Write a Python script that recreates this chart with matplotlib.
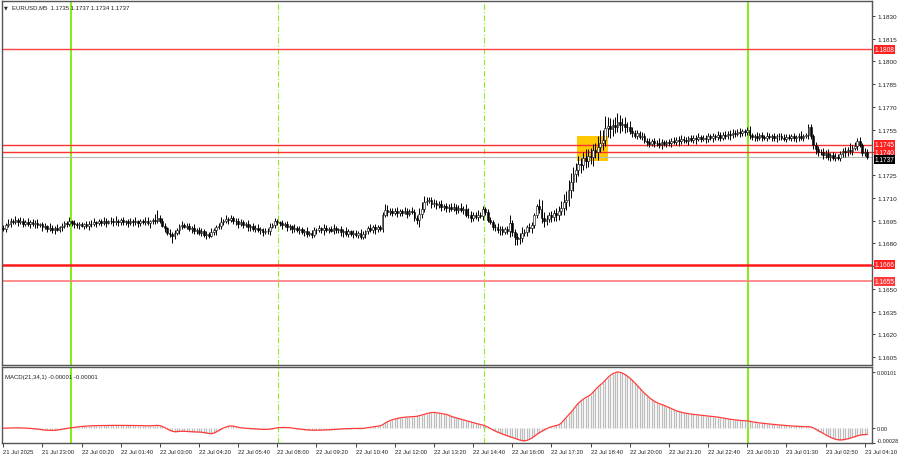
import matplotlib
matplotlib.use('Agg')
import matplotlib.pyplot as plt
from matplotlib.patches import Rectangle

plt.rcParams['font.family'] = ['Liberation Sans', 'DejaVu Sans']

# prices are points above 1.1600 (1 point = 0.00001)
BASE = 1.16
PT = 0.00001
WICK_UNIT = 3.5 * PT
first_open = 900

closes = [
    894, 920, 930, 950, 942, 955, 940, 950, 930, 942, 928, 938, 925, 935, 920,
    925, 905, 912, 895, 903, 888, 900, 890, 905, 912, 932, 928, 945, 935,
    928, 918, 926, 915, 925, 916, 930,
    925, 940, 932, 945, 936, 948, 935, 944, 950, 938, 946, 940, 952, 938, 944, 934, 948, 938, 944, 932, 946,
    940, 950, 932, 946, 952, 948, 965, 950, 915, 900, 868, 860, 845, 870, 885, 915, 922,
    910, 915, 895, 902, 880, 890, 868, 878, 855, 862, 850,
    875, 885, 910, 915, 940, 945, 962, 955, 968,
    945, 950, 930, 938, 920, 928, 905, 915, 895, 902, 885, 892, 875, 882, 878,
    910, 920, 945, 938, 935, 918, 925, 905, 912, 895, 902, 885, 892, 875,
    880, 862, 870, 858, 890, 885, 900, 885, 902, 888, 895, 884, 898, 885, 892,
    872, 880, 862, 878, 860, 870, 856, 868, 842, 860, 878, 898, 890, 905, 892, 906, 895,
    985, 1020, 1005, 1015, 1000, 1012, 998, 1010, 1002, 1015, 995, 1010, 1005,
    970, 952, 995, 1025, 1070, 1080, 1085, 1060, 1068, 1050, 1058, 1040,
    1048, 1030, 1040, 1028, 1038, 1022, 1035, 1020, 1026, 990, 985, 968, 988, 972, 990, 982,
    1025, 1005, 955, 940, 910, 905, 885, 895, 875, 892, 878, 935, 875, 840, 830, 832,
    865, 875, 905, 898, 920, 985, 1045, 1025, 970, 950, 962, 985, 975, 998, 990, 1012,
    1035, 1075, 1085, 1150, 1205, 1255, 1285, 1325, 1320, 1360, 1345, 1375, 1370,
    1415, 1405, 1435, 1465, 1485, 1560,
    1575, 1555, 1580, 1570, 1600, 1580, 1590, 1565, 1570,
    1540, 1530, 1510, 1525, 1500, 1505, 1478,
    1470, 1455, 1472, 1460, 1465, 1452, 1468, 1455, 1466, 1460, 1475,
    1468, 1485, 1472, 1490, 1480, 1476, 1492, 1484, 1496, 1486, 1500, 1490,
    1494, 1488, 1505, 1495, 1508, 1500, 1512, 1498,
    1515, 1508, 1524, 1512, 1528, 1520, 1535, 1526, 1540, 1532, 1548, 1512, 1500,
    1510, 1498, 1512, 1502, 1496, 1508, 1500, 1505, 1492, 1506, 1510, 1496, 1490, 1502,
    1498, 1505, 1492, 1500, 1510, 1496, 1506, 1512, 1565,
    1505, 1448, 1425, 1400, 1405, 1380, 1395, 1372, 1380, 1365, 1370, 1362,
    1390, 1412, 1400, 1418, 1408, 1428, 1440, 1475, 1450, 1395, 1405, 1372,
]

# wick lengths in units of 3.5 points
wick_up = [
    6, 4, 8, 5, 3, 7, 4, 6, 5, 3, 8, 4, 6, 5, 7, 3,
    4, 6, 3, 8, 5, 4, 7, 3, 6, 5, 4, 8, 3, 6, 4, 5,
    5, 3, 7, 4, 6, 8, 3, 5, 4, 7, 5, 3, 6, 4, 9, 5,
    4, 7, 3, 5, 6, 4, 8, 3, 5, 4, 6, 7, 3, 5, 12, 15,
    6, 4, 5, 3, 8, 4, 6, 5, 3, 7, 4, 5, 6, 3, 8, 4,
    5, 7, 4, 6, 3, 8, 5, 4, 6, 9, 5, 7, 4, 6, 3, 5,
    4, 6, 5, 3, 7, 4, 6, 5, 8, 4, 3, 6, 5, 7, 4, 6,
    5, 3, 6, 4, 7, 5, 3, 8, 4, 6, 5, 4, 7, 3, 6, 5,
    4, 6, 3, 7, 5, 4, 6, 8, 5, 3, 6, 4, 7, 5, 3, 6,
    5, 4, 7, 6, 3, 5, 8, 4, 6, 5, 4, 7, 12, 10, 6, 5,
    6, 8, 5, 4, 7, 6, 5, 8, 6, 4, 10, 14, 12, 8, 6, 5,
    7, 5, 6, 8, 4, 6, 5, 7, 8, 6, 5, 9, 6, 10, 12, 8,
    6, 5, 8, 4, 6, 5, 7, 6, 4, 5, 8, 6, 5, 4, 7, 15,
    6, 5, 8, 10, 12, 6, 5, 8, 6, 4, 5, 14, 18, 10, 8, 6,
    8, 6, 10, 9, 12, 15, 18, 20, 16, 14, 12, 15, 10, 12, 18, 14,
    16, 12, 14, 20, 24, 18, 22, 16, 14, 12, 15, 18, 14, 10, 12, 8,
    10, 8, 6, 7, 5, 8, 6, 5, 7, 4, 6, 5, 8, 6, 4, 5,
    6, 5, 7, 4, 6, 8, 5, 6, 4, 7, 5, 6, 8, 4, 6, 5,
    7, 5, 6, 4, 8, 6, 5, 7, 4, 6, 8, 5, 6, 7, 4, 5,
    6, 8, 5, 4, 7, 5, 6, 4, 8, 6, 5, 7, 4, 6, 5, 8,
    5, 6, 4, 7, 5, 6, 8, 5, 4, 6, 7, 5, 6, 4, 5, 6,
    5, 7, 4, 6, 8, 5, 6, 4, 7, 5, 12, 6, 8, 5, 7, 4,
    6, 5,
]

wick_dn = [
    4, 6, 3, 7, 5, 4, 8, 3, 6, 5, 4, 7, 3, 6, 5, 4,
    7, 3, 5, 4, 6, 8, 3, 5, 7, 4, 6, 3, 5, 8, 4, 6,
    3, 6, 4, 8, 5, 3, 7, 4, 6, 5, 8, 3, 4, 6, 5, 7,
    6, 4, 5, 8, 3, 6, 4, 7, 5, 3, 6, 4, 8, 5, 6, 4,
    5, 3, 8, 4, 6, 12, 5, 4, 7, 6, 3, 5, 4, 8, 6, 5,
    3, 6, 4, 7, 5, 3, 6, 8, 4, 5, 6, 3, 7, 4, 5, 6,
    8, 4, 5, 3, 6, 7, 4, 5, 3, 6, 8, 4, 5, 7, 3, 6,
    4, 5, 7, 3, 6, 4, 8, 5, 3, 6, 4, 7, 5, 3, 6, 4,
    6, 3, 5, 8, 4, 6, 3, 7, 5, 4, 6, 8, 3, 5, 4, 7,
    5, 6, 4, 3, 7, 5, 4, 6, 8, 5, 3, 6, 4, 7, 5, 6,
    4, 7, 5, 6, 3, 8, 5, 4, 6, 7, 12, 8, 6, 5, 4, 7,
    5, 6, 4, 8, 5, 7, 6, 4, 5, 8, 6, 4, 7, 5, 6, 8,
    6, 4, 7, 5, 8, 6, 5, 4, 7, 6, 5, 8, 6, 4, 5, 10,
    8, 15, 12, 10, 6, 5, 7, 6, 8, 5, 6, 8, 10, 12, 8, 6,
    10, 8, 12, 10, 8, 14, 16, 12, 15, 18, 14, 12, 16, 10, 14, 12,
    14, 18, 12, 16, 10, 14, 12, 16, 18, 14, 12, 10, 14, 12, 10, 8,
    6, 8, 5, 7, 4, 6, 5, 8, 6, 4, 7, 5, 6, 8, 4, 6,
    5, 7, 4, 6, 8, 5, 6, 4, 7, 5, 6, 8, 4, 6, 5, 7,
    6, 4, 8, 5, 6, 7, 4, 5, 6, 8, 5, 6, 4, 7, 5, 6,
    4, 6, 5, 8, 6, 4, 7, 5, 6, 4, 8, 5, 6, 7, 4, 5,
    6, 5, 7, 4, 6, 8, 5, 6, 4, 7, 5, 8, 10, 6, 5, 7,
    4, 6, 8, 5, 7, 4, 6, 5, 8, 6, 5, 7, 4, 6, 5, 6,
    5, 4,
]

# MACD(21,34,1) values in units of 0.000001
macd = [
    -12, -10, -8, -8, -6, -5, -5, -6, -8, -10, -12, -15, -18,
    -22, -28, -34, -40, -45, -48, -50, -52, -50, -45, -38, -30,
    -22, -15, -8, -2, 4, 10, 15, 20, 24, 27, 30,
    32, 34, 35, 36, 37, 38, 38, 39, 40, 40, 40, 41, 41, 40, 40, 39, 38, 38, 37, 36, 35,
    34, 33, 32, 32, 34, 37, 40,
    35, 20, 0, -25, -48, -65, -75,
    -72, -68, -66, -68, -70, -72, -74, -76, -78, -80, -84, -90, -98, -106,
    -110, -100, -80, -55, -30, -8, 10, 25, 30,
    25, 15, 5, -3, -8, -12, -15, -18, -22,
    -25, -28, -30, -32, -33, -32, -28, -20, -12, -5,
    0, 2, 2, 0, -3, -8, -14, -20, -26, -32,
    -38, -42, -45, -47, -48, -48, -47, -46, -44, -42, -40, -38, -35,
    -32, -28, -25, -22, -20, -18, -17, -16, -16, -17, -18, -15, -8, 0,
    8, 15, 22, 28, 32,
    50, 80, 105, 125, 142, 155, 165, 175,
    182, 188, 192, 196, 198, 200, 205, 215,
    228, 242, 255, 265, 272, 275,
    270, 262, 255, 248, 240, 225, 205,
    190, 178, 165, 152, 140, 128, 115, 102, 90, 78, 66, 55, 45,
    30, 10, -15, -40, -62, -82, -100, -118, -135, -150, -165, -180, -195, -210, -225, -235, -240,
    -232, -215, -190, -160, -125, -95, -70, -45,
    -20, 0, 15, 28, 38, 48,
    80, 130, 180, 230, 275,
    330, 390, 440, 480, 515, 545, 570, 595,
    640, 690, 735, 775, 810,
    860, 905, 945, 975, 995, 1010,
    1005, 990, 965, 935, 900, 860, 815, 770,
    720, 670, 625, 585, 545, 510, 480, 455, 435, 420, 405,
    385, 365, 345, 325, 305, 290, 278, 268, 260, 252, 245,
    240, 235, 230, 225, 220, 215, 210, 205, 200, 195, 190,
    182, 175, 168, 160, 152, 145, 140, 135, 130, 126, 124, 122, 115,
    105, 98, 92, 86, 80, 75, 70, 65, 60, 56, 52, 48, 45, 42,
    38, 34, 30, 27, 24, 22, 20, 18, 16, 18, 12,
    -5, -30, -55, -80, -105, -130, -155, -175, -195, -210, -220, -225,
    -222, -215, -205, -192, -178, -165, -150, -138, -130, -126, -124,
]

time_labels = ['21 Jul 2025', '21 Jul 23:00', '22 Jul 00:20', '22 Jul 01:40', '22 Jul 03:00',
               '22 Jul 04:20', '22 Jul 05:40', '22 Jul 08:00', '22 Jul 09:20', '22 Jul 10:40',
               '22 Jul 12:00', '22 Jul 13:20', '22 Jul 14:40', '22 Jul 16:00', '22 Jul 17:20',
               '22 Jul 18:40', '22 Jul 20:00', '22 Jul 21:20', '22 Jul 22:40', '23 Jul 00:10',
               '23 Jul 01:30', '23 Jul 02:50', '23 Jul 04:10']
bars_per_label = 16

price_ticks = [1.1605, 1.1620, 1.1635, 1.1650, 1.1665, 1.1680, 1.1695, 1.1710,
               1.1725, 1.1740, 1.1755, 1.1770, 1.1785, 1.1800, 1.1815, 1.1830]
hidden_ticks = [1.1665, 1.1740]   # covered by level labels

# horizontal levels: (price, line colour, line width, label box colour, label nudge)
levels = [(1.1808, '#ff4040', 1.0, '#ff2020', 0.0),
          (1.1745, '#ff3030', 1.0, '#ff2020', 0.00004),
          (1.1740, '#ff3030', 1.0, '#ff2020', 0.0),
          (1.1666, '#ff1a1a', 1.8, '#ff2020', 0.0),
          (1.1655, '#ff7a7a', 1.2, '#ff3a3a', 0.0)]
bid = 1.1737

day_lines = [27.8, 304.5]        # solid green
session_lines = [112.2, 196.3]   # dash-dot green

signal_box = (234.3, 247.3, 1.17343, 1.17508)  # bar from, bar to, low, high

n = min(len(closes), len(wick_up), len(wick_dn), len(macd))
xs = list(range(n))
c = [BASE + v * PT for v in closes[:n]]
o = [BASE + first_open * PT] + c[:-1]
hi = [max(o[i], c[i]) + wick_up[i] * WICK_UNIT for i in xs]
lo = [min(o[i], c[i]) - wick_dn[i] * WICK_UNIT for i in xs]

fig = plt.figure(figsize=(9, 4.6), dpi=100)
ax = fig.add_axes([2 / 900, 1 - 366 / 460, 870 / 900, 364 / 460])
ax2 = fig.add_axes([2 / 900, 1 - 444 / 460, 870 / 900, 76 / 460])

for a in (ax, ax2):
    for xv in day_lines:
        a.axvline(xv, color='#77ee00', lw=1.3, zorder=1)
    for xv in session_lines:
        a.axvline(xv, color='#88ee22', lw=0.8, ls=(0, (5, 2, 1, 2)), zorder=1)
    a.set_xlim(-0.5, 355)
    for s in a.spines.values():
        s.set_color('#555555')
        s.set_linewidth(1.0)

# signal rectangle
b0, b1, y0, y1 = signal_box
ax.add_patch(Rectangle((b0, y0), b1 - b0, y1 - y0, facecolor='#ffc800', edgecolor='none', zorder=1.5))

# levels
for price, col, lw, box, nudge in levels:
    ax.axhline(price, color=col, lw=lw, zorder=1.8)
ax.axhline(bid, color='#b8b8b8', lw=0.8, zorder=1.8)

# candles
ax.vlines(xs, lo, hi, color='black', lw=0.7, zorder=3)
up = [i for i in xs if c[i] >= o[i]]
dn = [i for i in xs if c[i] < o[i]]
ax.bar(up, [max(c[i] - o[i], 0.3 * PT) for i in up], bottom=[o[i] for i in up], width=0.7,
       facecolor='white', edgecolor='black', linewidth=0.4, zorder=4)
ax.bar(dn, [o[i] - c[i] for i in dn], bottom=[c[i] for i in dn], width=0.7,
       facecolor='black', edgecolor='black', linewidth=0.4, zorder=4)

ax.set_ylim(1.15997, 1.18399)
ax.yaxis.tick_right()
ax.set_yticks(price_ticks)
ax.set_yticklabels(['' if p in hidden_ticks else '%.4f' % p for p in price_ticks])
ax.tick_params(axis='y', labelsize=4.6, length=2, width=0.6, pad=2, colors='#222222')
ax.set_xticks([])

ytr = ax.get_yaxis_transform()
for price, col, lw, box, nudge in levels:
    ax.text(1.003, price + nudge, '%.4f' % price, transform=ytr, fontsize=4.7, color='white',
            va='center', ha='left', clip_on=False, zorder=10,
            bbox=dict(boxstyle='square,pad=0.15', facecolor=box, edgecolor='none'))
ax.text(1.003, bid - 0.00015, '%.4f' % bid, transform=ytr, fontsize=4.7, color='white',
        va='center', ha='left', clip_on=False, zorder=11,
        bbox=dict(boxstyle='square,pad=0.15', facecolor='black', edgecolor='none'))

# MACD panel
m = [v * 1e-6 for v in macd[:n]]
ax2.vlines(xs, 0, m, color='#bdbdbd', lw=0.9, zorder=2)
ax2.plot(xs, m, color='#ff3b3b', lw=0.9, zorder=3)
ax2.set_ylim(-0.00028, 0.00110)
ax2.yaxis.tick_right()
ax2.set_yticks([0.00101, 0.0, -0.00028])
ax2.set_yticklabels(['0.00101', '0.00', '-0.00028'])
ax2.get_yticklabels()[2].set_va('bottom')
ax2.tick_params(axis='y', labelsize=4.1, length=2, width=0.6, pad=1.5, colors='#222222')

ticks = [k * bars_per_label for k in range(len(time_labels))]
ax2.set_xticks(ticks)
ax2.set_xticklabels(time_labels, ha='left')
ax2.tick_params(axis='x', labelsize=4.2, length=3, width=0.6, pad=1.5, colors='#222222')

fig.text(4 / 900, 1 - 8 / 460, '\u25bc', fontsize=3.5, va='center', ha='left', color='#222222',
         family='DejaVu Sans')
fig.text(12 / 900, 1 - 8 / 460, 'EURUSD,M5  1.1735 1.1737 1.1734 1.1737', fontsize=4.3,
         va='center', ha='left', color='#222222')
fig.text(5 / 900, 1 - 377 / 460, 'MACD(21,34,1) -0.00001 -0.00001', fontsize=4.3,
         va='center', ha='left', color='#222222')

fig.savefig('out.png', dpi=100, facecolor='white')
